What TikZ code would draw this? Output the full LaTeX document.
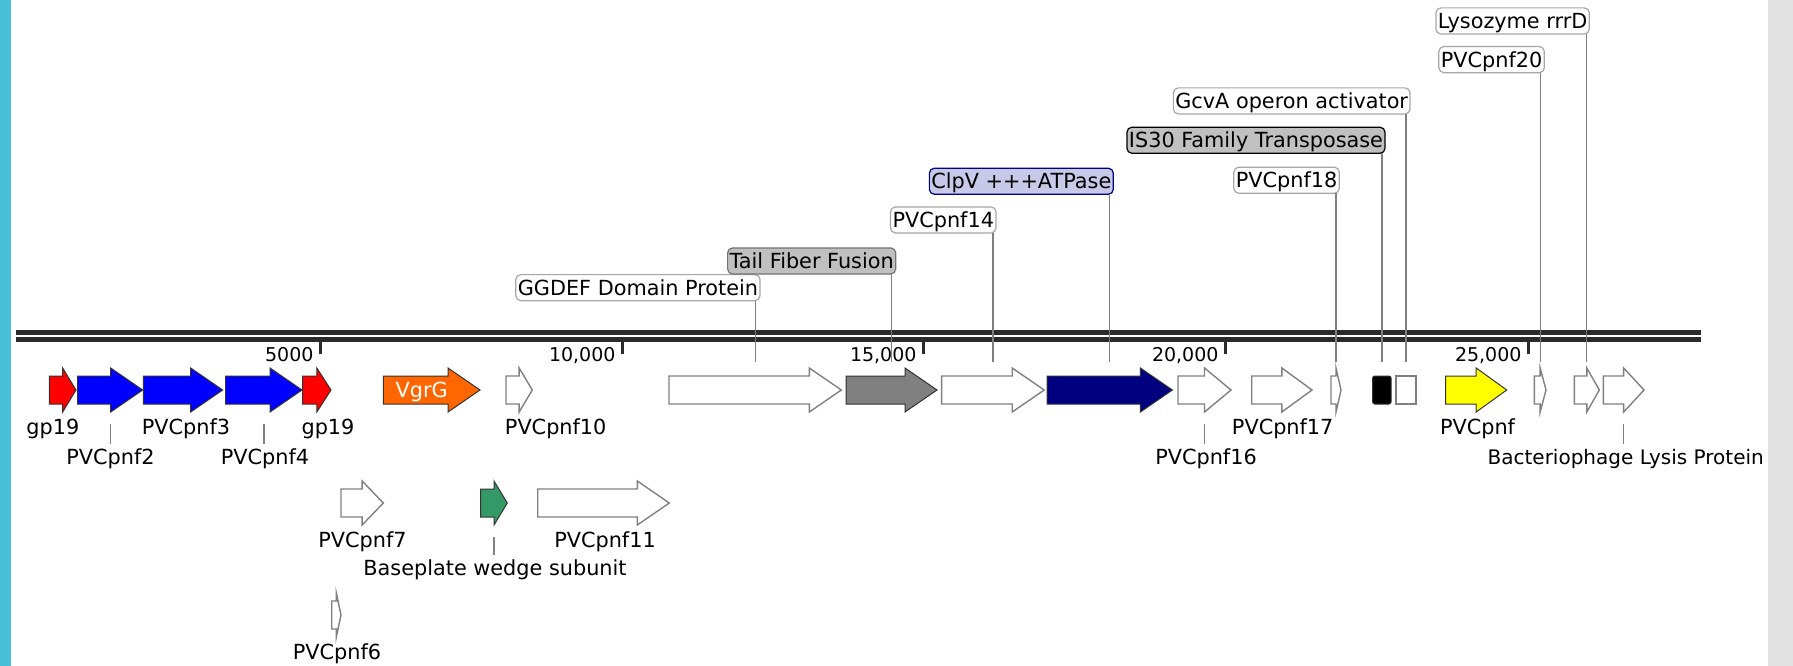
\documentclass[tikz,border=0pt]{standalone}
\usepackage{fontspec}
\setmainfont{DejaVu Sans}
\usepackage{xcolor}

\definecolor{sidecyan}{RGB}{72,190,214}
\definecolor{sidegrey}{RGB}{226,226,226}
\definecolor{bbdark}{RGB}{43,43,43}
\definecolor{gpred}{RGB}{255,0,0}
\definecolor{pnfblue}{RGB}{0,0,255}
\definecolor{vgrorange}{RGB}{255,102,0}
\definecolor{tffgrey}{RGB}{128,128,128}
\definecolor{clpnavy}{RGB}{0,0,128}
\definecolor{clplav}{RGB}{200,200,232}
\definecolor{pnfyellow}{RGB}{255,255,0}
\definecolor{bwgreen}{RGB}{51,153,102}
\definecolor{boxgrey}{RGB}{192,192,192}

% one gene: style, name, start, end, row
\newcommand{\genearrow}[5]{%
  \pgfmathsetmacro{\hdlen}{min(32,(#4-#3)/2)}%
  \draw[#1] (#3,#5-14) -- (#4-\hdlen,#5-14) -- (#4-\hdlen,#5-22) -- (#4,#5)
    -- (#4-\hdlen,#5+22) -- (#4-\hdlen,#5+14) -- (#3,#5+14) -- cycle;
  \coordinate (#2) at ({(#3+#4)/2},#5);
}

\begin{document}
\begin{tikzpicture}[x=1pt, y=-1pt,
  every node/.style={font=\fontsize{20.8}{24}\selectfont, inner sep=0pt, outer sep=0pt},
  colgene/.style={draw=black!80, line width=1pt},
  whitegene/.style={draw=black!50, fill=white, line width=1.4pt},
  toplbl/.style={draw=black!35, fill=white, line width=1.2pt, rounded corners=5pt,
    inner xsep=2pt, inner ysep=3.2pt, text height=17.3pt, text depth=2.4pt, anchor=south east},
  botlbl/.style={anchor=base, text height=15pt},
  lead/.style={draw=black!50, line width=1.3pt}]
	\fill[white] (0,0) rectangle (1793,666);
	\useasboundingbox (0,0) rectangle (1793,666);
	\fill[sidecyan] (0,0) rectangle (10.7,666);
	\fill[sidegrey] (1768,0) rectangle (1793,666);
	
	% backbone and ruler
	\draw[bbdark, line width=5pt] (16,332.5) -- (1700.7,332.5);
	\draw[bbdark, line width=5.5pt] (16,339.6) -- (1700.7,339.6);
	\foreach \x/\t in {320/5000, 622/{10,000}, 923/{15,000}, 1225/{20,000}, 1528/{25,000}}{
		\draw[bbdark, line width=3pt] (\x,342) -- (\x,354);
		\node[anchor=base east, font=\fontsize{19}{20}\selectfont] (ruler\x) at (\x-6.5,361) {\t};
	}
	
	% genes, first row
	\genearrow{colgene, fill=gpred}{gpA}{49.3}{76}{390}
	\genearrow{colgene, fill=pnfblue}{pnf2}{77.7}{142.7}{390}
	\genearrow{colgene, fill=pnfblue}{pnf3}{143.3}{222.7}{390}
	\genearrow{colgene, fill=pnfblue}{pnf4}{225.7}{302}{390}
	\genearrow{colgene, fill=gpred}{gpB}{302.7}{331}{390}
	\genearrow{colgene, fill=vgrorange}{vgrg}{383.3}{480}{390}
	\genearrow{whitegene}{pnf10}{506}{532.3}{390}
	\genearrow{whitegene}{ggdef}{669}{841.3}{390}
	\genearrow{colgene, fill=tffgrey}{tff}{846}{937}{390}
	\genearrow{whitegene}{pnf14}{941.6}{1044.2}{390}
	\genearrow{colgene, fill=clpnavy}{clpv}{1047.2}{1172.4}{390}
	\genearrow{whitegene}{pnf16}{1178}{1231}{390}
	\genearrow{whitegene}{pnf17}{1251.7}{1312}{390}
	\genearrow{whitegene}{pnf18}{1331}{1341}{390}
	\draw[colgene, fill=black, rounded corners=2pt] (1372.7,376) rectangle (1391,404);
	\coordinate (is30) at (1381.9,390);
	\draw[whitegene] (1396,376) rectangle (1416,404);
	\coordinate (gcva) at (1406,390);
	\genearrow{colgene, fill=pnfyellow}{pnfy}{1445.7}{1506.7}{390}
	\genearrow{whitegene}{pnf20}{1534.3}{1546}{390}
	\genearrow{whitegene}{lyso}{1574.3}{1599.3}{390}
	\genearrow{whitegene}{lysis}{1603.3}{1644}{390}
	
	% second and third row
	\genearrow{whitegene}{pnf7}{341}{383.3}{503}
	\genearrow{colgene, fill=bwgreen}{bwedge}{480.7}{507.3}{503}
	\genearrow{whitegene}{pnf11}{537.7}{669.3}{503}
	\genearrow{whitegene}{pnf6}{331.7}{341}{615}
	
	\node[text=white, anchor=base] (tVgrG) at (421.7,397.6) {VgrG};
	
	% labels above the backbone
	\node[toplbl] (tGGDEF) at (760,300.7) {GGDEF Domain Protein};
	\node[toplbl, fill=boxgrey, draw=black!55] (tTFF) at (895.7,274) {Tail Fiber Fusion};
	\node[toplbl] (tPnf14) at (996,233) {PVCpnf14};
	\node[toplbl, fill=clplav, draw=clpnavy] (tClpV) at (1113.3,194.3) {ClpV +++ATPase};
	\node[toplbl] (tPnf18) at (1339.3,193.3) {PVCpnf18};
	\node[toplbl, fill=boxgrey, draw=black] (tIS30) at (1385,153.3) {IS30 Family Transposase};
	\node[toplbl] (tGcvA) at (1410,114) {GcvA operon activator};
	\node[toplbl] (tPnf20) at (1544.3,72.7) {PVCpnf20};
	\node[toplbl] (tLyso) at (1589.3,34) {Lysozyme rrrD};
	\foreach \g/\t in {ggdef/tGGDEF, tff/tTFF, pnf14/tPnf14, clpv/tClpV, pnf18/tPnf18,
		is30/tIS30, gcva/tGcvA, pnf20/tPnf20, lyso/tLyso}
		\draw[lead] (\g |- \t.south) -- ([yshift=28pt]\g);
	
	% labels below the genes
	\node[botlbl] (lGpA) at (52.8,434) {gp19};
	\node[botlbl] (lPnf2) at (110.5,464) {PVCpnf2};
	\node[botlbl] (lPnf3) at (186,434) {PVCpnf3};
	\node[botlbl] (lPnf4) at (265,464) {PVCpnf4};
	\node[botlbl] (lGpB) at (328,434) {gp19};
	\node[botlbl] (lPnf10) at (555.7,434) {PVCpnf10};
	\node[botlbl] (lPnf16) at (1206,464) {PVCpnf16};
	\node[botlbl] (lPnf17) at (1282.7,434) {PVCpnf17};
	\node[botlbl] (lPnfY) at (1477.5,434) {PVCpnf};
	\node[botlbl, font=\fontsize{20}{24}\selectfont] (lLysis) at (1625.7,464) {Bacteriophage Lysis Protein};
	\node[botlbl] (lPnf7) at (362.5,547) {PVCpnf7};
	\node[botlbl] (lBwedge) at (495,575) {Baseplate wedge subunit};
	\node[botlbl] (lPnf11) at (605,547) {PVCpnf11};
	\node[botlbl] (lPnf6) at (337,659) {PVCpnf6};
	\foreach \g/\l in {pnf2/lPnf2, pnf4/lPnf4, pnf16/lPnf16, lysis/lLysis, bwedge/lBwedge}
		\draw[lead, shorten <=34pt, shorten >=5pt] (\g) -- (\g |- \l.north);
\end{tikzpicture}
\end{document}
